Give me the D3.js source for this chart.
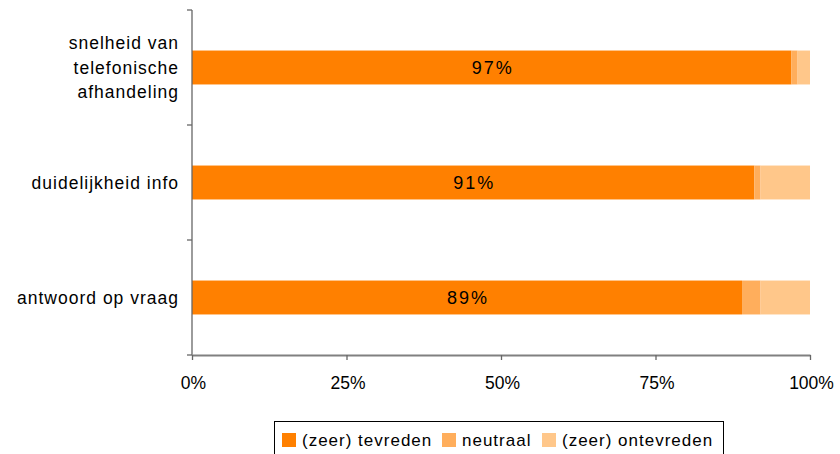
<!DOCTYPE html>
<html>
<head>
<meta charset="utf-8">
<script src="https://cdn.jsdelivr.net/npm/d3@7"></script>
<style>
  html, body { margin: 0; padding: 0; background: #fff; }
  svg { display: block; font-family: "Liberation Sans", Arial, sans-serif; }
</style>
</head>
<body>
<svg id="chart" width="840" height="454"></svg>
<script>
// Survey categories (top to bottom), each split into three satisfaction groups
const categories = [
  ["snelheid van", "telefonische", "afhandeling"],
  ["duidelijkheid info"],
  ["antwoord op vraag"]
];
const seriesNames = ["(zeer) tevreden", "neutraal", "(zeer) ontevreden"];
const tevreden   = [97, 91, 89];
const neutraal   = [1, 1, 3];
const ontevreden = [2, 8, 8];
const tickValues = [0, 25, 50, 75, 100];
const tickLabels = ["0%", "25%", "50%", "75%", "100%"];
const colors = ["#FF8000", "#FFAE5C", "#FFC78A"];

const svg = d3.select("#chart");
const plotLeft = 192, plotRight = 810, plotTop = 10, plotBottom = 355;

const rows = categories.map((c, i) => ({
  key: i,
  label: c,
  values: [tevreden[i], neutraal[i], ontevreden[i]]
}));

const x = d3.scaleLinear().domain([0, 100]).range([plotLeft, plotRight]);
const y = d3.scaleBand().domain(rows.map(r => r.key)).range([plotTop, plotBottom])
  .paddingInner(0.705).paddingOuter(0.3525);

// Stacked bar segments
const stack = d3.stack().keys([0, 1, 2]).value((d, k) => d.values[k]);
const layers = stack(rows);
svg.append("g").selectAll("g").data(layers).join("g")
  .attr("fill", (d, i) => colors[i])
  .selectAll("rect").data(d => d).join("rect")
  .attr("x", d => x(d[0]))
  .attr("width", d => x(d[1]) - x(d[0]))
  .attr("y", d => y(d.data.key))
  .attr("height", y.bandwidth());

// Value labels centred on the satisfied segment
svg.append("g").selectAll("text").data(rows).join("text")
  .attr("x", d => x(d.values[0] / 2) + 1)
  .attr("y", d => y(d.key) + y.bandwidth() / 2)
  .attr("dy", "0.36em")
  .attr("text-anchor", "middle")
  .attr("font-size", 18)
  .attr("letter-spacing", 2)
  .attr("fill", "#000")
  .text(d => d.values[0] + "%");

// Category axis (left): boundaries between groups carry the tick marks
const boundaries = d3.range(rows.length + 1)
  .map(i => plotTop + i * (plotBottom - plotTop) / rows.length);
const yAxis = svg.append("g");
yAxis.append("line")
  .attr("x1", plotLeft).attr("x2", plotLeft).attr("y1", plotTop).attr("y2", plotBottom)
  .attr("stroke", "#666").attr("stroke-width", 1.3);
yAxis.selectAll("line.tk").data(boundaries).join("line").attr("class", "tk")
  .attr("x1", plotLeft - 5).attr("x2", plotLeft).attr("y1", d => d).attr("y2", d => d)
  .attr("stroke", "#666").attr("stroke-width", 1.3);

const lineH = 24.5;
yAxis.selectAll("text").data(rows).join("text")
  .attr("text-anchor", "end")
  .attr("font-size", 17.5)
  .attr("letter-spacing", 1)
  .attr("fill", "#000")
  .each(function (d) {
    const cy = y(d.key) + y.bandwidth() / 2;
    const n = d.label.length;
    d3.select(this).selectAll("tspan").data(d.label).join("tspan")
      .attr("x", 179)
      .attr("y", (t, j) => cy + (j - (n - 1) / 2) * lineH)
      .attr("dy", "0.36em")
      .text(t => t);
  });

// Percentage axis (bottom)
const xAxis = d3.axisBottom(x).tickValues(tickValues)
  .tickFormat((d, i) => tickLabels[i]).tickSize(5).tickSizeOuter(0);
const gx = svg.append("g").attr("transform", `translate(0,${plotBottom})`).call(xAxis);
gx.select(".domain").attr("stroke", "#808080").attr("stroke-width", 2);
gx.selectAll(".tick line").attr("stroke", "#666").attr("stroke-width", 1.3);
gx.selectAll(".tick text")
  .attr("font-family", "Liberation Sans, Arial, sans-serif")
  .attr("font-size", 17.5).attr("fill", "#000")
  .attr("y", 8).attr("dy", "1.48em").attr("dx", 1);

// Legend
const legend = svg.append("g");
legend.append("rect")
  .attr("x", 274.5).attr("y", 421.5).attr("width", 449).attr("height", 40)
  .attr("fill", "none").attr("stroke", "#000").attr("stroke-width", 1);
const legendX = [282, 442, 542];
const items = legend.selectAll("g").data(seriesNames).join("g")
  .attr("transform", (d, i) => `translate(${legendX[i]},433)`);
items.append("rect").attr("width", 14).attr("height", 14)
  .attr("fill", (d, i) => colors[i]);
items.append("text").attr("x", 20).attr("y", 7).attr("dy", "0.36em")
  .attr("font-size", 17).attr("letter-spacing", 1)
  .attr("fill", "#000").text(d => d);
</script>
</body>
</html>
